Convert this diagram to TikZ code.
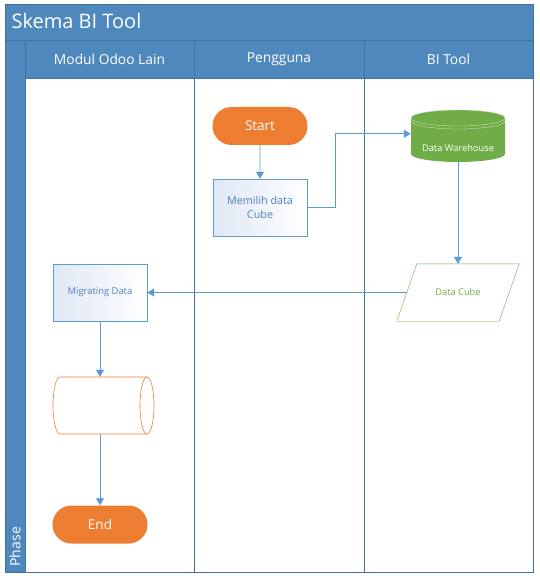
\documentclass[tikz,border=0pt]{standalone}
\usepackage{fontspec}
\setmainfont{Open Sans}
\usepackage{xcolor}
\usepackage{tikz}
\usetikzlibrary{calc}
\usetikzlibrary{shapes,arrows.meta,positioning}
\usetikzlibrary{shapes.geometric}
\definecolor{hdrblue}{RGB}{79,136,188}
\definecolor{lanelin}{RGB}{65,113,156}
\definecolor{flowblue}{RGB}{91,155,213}
\definecolor{txtblue}{RGB}{79,129,189}
\definecolor{startorg}{RGB}{237,125,49}
\definecolor{dwgreen}{RGB}{112,173,71}
\definecolor{dwlight}{RGB}{197,224,180}
\definecolor{boxlav}{RGB}{224,231,245}

\begin{document}
\begin{tikzpicture}[x=1pt,y=-1pt,
	terminal/.style={rounded rectangle,fill=startorg,text=white,minimum width=95pt,minimum height=38pt,inner sep=0pt,font=\fontsize{13.5}{16}\selectfont},
	process/.style={draw=flowblue,left color=boxlav,right color=white,text=txtblue,minimum width=94pt,minimum height=57pt,inner sep=0pt,align=center},
	flow/.style={flowblue,thick,-{Triangle[length=7pt,width=8pt]}},
	hdr/.style={text=white,font=\fontsize{13.8}{16}\selectfont}]
	\useasboundingbox (0,0) rectangle (539,580);
	\fill[white] (0,0) rectangle (539,580);
	% swimlanes
	\fill[hdrblue] (5,4) rectangle (533,78);
	\fill[hdrblue] (5,78) rectangle (25,572);
	\draw[lanelin] (5,40)--(533,40);
	\draw[lanelin] (25,78)--(533,78);
	\draw[lanelin,thick] (25,40)--(25,572);
	\draw[lanelin,thick] (194,40)--(194,572);
	\draw[lanelin,thick] (364,40)--(364,572);
	\draw[lanelin,thick] (5,4) rectangle (533,572);
	\node[anchor=west,text=white,font=\fontsize{20}{23}\selectfont] (title) at (8,21) {Skema BI Tool};
	\node[hdr] (lane1) at (109.5,59) {Modul Odoo Lain};
	\node[hdr] (lane2) at (279,59) {Pengguna};
	\node[hdr] (lane3) at (448.5,59) {BI Tool};
	\node[hdr,rotate=90,anchor=west,font=\fontsize{14}{16}\selectfont] (phase) at (15,570) {Phase};
	% Pengguna
	\node[terminal] (start) at (260,126) {Start};
	\node[process,font=\fontsize{10.8}{13.5}\selectfont] (pilih) at (260,207.5) {Memilih data\\Cube};
	% BI Tool
	\fill[dwgreen] (411,118) -- (411,154) arc[start angle=180,end angle=0,x radius=47,y radius=8] -- (505,118) arc[start angle=360,end angle=180,x radius=47,y radius=8] -- cycle;
	\draw[dwlight,thin] (458,118) ellipse[x radius=47,y radius=8];
	\draw[dwlight,thin] (411,121) arc[start angle=180,end angle=0,x radius=47,y radius=8];
	\node[text=white,minimum width=94pt,minimum height=28pt,inner sep=0pt,font=\fontsize{9.3}{11}\selectfont] (dw) at (458,148) {Data Warehouse};
	\node[text=dwgreen,minimum width=102pt,minimum height=57pt,inner sep=0pt,font=\fontsize{9.3}{11}\selectfont] (cube) at (458,292.5) {Data Cube};
	\draw[dwgreen] ($(cube.south west)+(-10,0)$) -- ($(cube.south east)+(-10,0)$) -- ($(cube.north east)+(10,0)$) -- ($(cube.north west)+(10,0)$) -- cycle;
	% Modul Odoo Lain
	\node[process,font=\fontsize{9.4}{11}\selectfont] (mig) at (100,292.5) {Migrating Data};
	\node[minimum width=101pt,minimum height=57pt,inner sep=0pt] (store) at (100,405.5) {};
	\draw[startorg,line width=0.6pt] (147,377) -- (60,377) arc[start angle=270,end angle=90,x radius=7,y radius=28.5] -- (147,434);
	\draw[startorg,line width=0.6pt] (147,405.5) ellipse[x radius=7,y radius=28.5];
	\node[terminal] (end) at (100,524.5) {End};
	% alur
	\draw[flow] (start) -- (pilih);
	\draw[flow] (pilih.east) -- ++(28,0) |- (dw.north west);
	\draw[flow] (dw.south) -- (dw.south |- cube.north);
	\draw[flow] (cube.west) -- (mig.east);
	\draw[flow] (mig) -- (store);
	\draw[flow] (store) -- (end);
\end{tikzpicture}
\end{document}
